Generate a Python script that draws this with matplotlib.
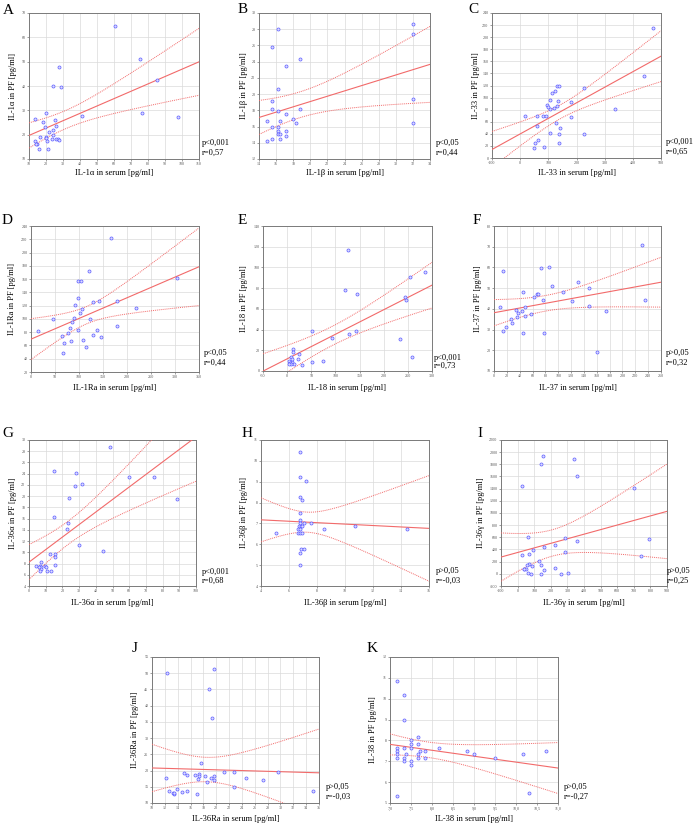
import numpy as np
import matplotlib
matplotlib.use('Agg')
import matplotlib.pyplot as plt

plt.rcParams['font.family'] = ['Liberation Serif', 'DejaVu Serif']

# ---------------- data ----------------
a_x = [60.6, 75.5, 27.8, 24.3, 28.8, 85.5, 76.3, 97.6, 41.0, 19.8, 13.3, 18.0, 25.5, 19.6, 25.7, 21.8,
       23.9, 24.3, 16.7, 19.8, 20.0, 25.9, 27.3, 27.8, 13.5, 20.4, 14.9, 14.1, 23.3, 15.7, 21.0]
a_y = [64.6, 51.3, 47.9, 39.8, 39.5, 42.4, 29.1, 27.3, 27.6, 28.9, 26.6, 25.2, 26.0, 23.3, 23.7, 21.0,
       21.9, 20.0, 18.9, 18.9, 18.5, 18.2, 18.1, 18.0, 17.2, 17.2, 16.2, 16.0, 18.2, 14.1, 14.2]

b_x = [32.0, 32.0, 16.2, 15.5, 18.8, 17.1, 16.2, 32.0, 15.5, 15.5, 16.2, 18.8, 17.1, 18.0, 14.9, 16.5,
       18.3, 32.0, 15.5, 16.2, 16.2, 17.1, 16.2, 16.5, 17.1, 15.5, 16.5, 14.9]
b_y = [28.6, 27.4, 28.0, 25.8, 24.3, 23.5, 20.6, 19.4, 19.1, 18.2, 17.9, 18.2, 17.6, 16.9, 16.7, 16.7,
       16.4, 16.4, 16.0, 16.0, 15.4, 15.4, 15.1, 15.1, 14.8, 14.5, 14.5, 14.2]

c_x = [472.7, 440.7, 336.4, 226.0, 226.0, 182.2, 178.7, 131.2, 138.4, 123.0, 114.6, 107.5, 134.8, 95.7,
       98.0, 119.4, 105.1, 132.4, 16.2, 58.9, 80.2, 93.3, 60.1, 126.5, 143.1, 107.5, 137.2, 62.5, 53.0,
       139.5, 86.2, 50.6]
c_y = [215.0, 135.5, 80.8, 115.6, 39.8, 92.9, 68.6, 119.5, 119.5, 111.2, 107.9, 96.2, 94.0, 87.4,
       84.1, 82.4, 80.8, 86.8, 69.7, 69.1, 69.1, 69.7, 52.5, 57.5, 50.3, 42.0, 40.4, 29.9, 25.4,
       24.3, 18.8, 16.6]

d_x = [166.0, 120.1, 97.2, 104.2, 304.9, 98.6, 179.9, 142.4, 129.9, 91.0, 106.9, 218.1, 102.1, 122.9,
       90.3, 45.8, 86.1, 81.3, 13.9, 97.2, 137.5, 179.9, 76.4, 129.2, 145.1, 65.3, 68.8, 84.0, 107.6,
       114.6, 66.0]
d_y = [222.5, 171.9, 157.3, 157.8, 160.9, 131.3, 127.3, 126.3, 125.3, 120.3, 115.2, 116.2, 109.2,
       100.2, 101.2, 100.2, 95.2, 85.7, 82.2, 83.2, 83.7, 89.2, 78.6, 76.1, 73.1, 74.1, 64.1, 67.1,
       68.1, 57.1, 48.1]

e_x = [126.7, 120.5, 145.4, 286.1, 254.9, 244.5, 245.9, 234.1, 258.4, 51.2, 142.0, 127.4, 92.1, 12.4,
       13.1, 24.2, 22.8, 8.9, 51.9, 74.0, 31.8, 4.4, 9.3, 5.8, 14.1, 8.6, 4.1, 10.0]
e_y = [116.8, 78.2, 74.7, 95.9, 90.8, 71.8, 68.9, 31.2, 13.8, 38.3, 38.9, 35.7, 32.2, 20.9, 18.7,
       16.4, 11.9, 13.5, 8.7, 10.0, 6.1, 9.7, 8.7, 7.4, 6.8, 6.4, 6.8, 11.9]

f_x = [229.8, 235.0, 73.8, 85.8, 14.6, 91.0, 131.0, 147.2, 44.7, 108.2, 67.1, 69.2, 61.9, 77.0, 122.2,
       9.4, 48.9, 148.2, 34.8, 43.7, 173.7, 38.0, 58.2, 35.4, 48.4, 27.0, 28.1, 18.2, 14.6, 44.7,
       78.5, 159.6]
f_y = [70.8, 44.1, 59.9, 60.0, 58.4, 51.2, 53.1, 50.1, 48.1, 48.3, 47.3, 47.0, 45.9, 44.3, 44.0,
       41.1, 41.1, 41.4, 39.4, 39.1, 39.1, 38.2, 37.4, 36.1, 36.4, 35.1, 33.0, 31.2, 29.2, 28.3,
       28.2, 19.0]

g_x = [48.4, 14.9, 28.1, 59.8, 74.9, 31.5, 27.3, 23.7, 88.6, 14.9, 23.3, 22.9, 30.1, 44.4, 12.7, 15.3,
       15.5, 7.0, 15.5, 4.0, 6.6, 7.2, 9.8, 10.4, 6.2, 7.0, 10.5, 13.3, 6.6]
g_y = [28.8, 24.5, 24.2, 23.4, 23.5, 22.2, 21.8, 19.65, 19.5, 16.2, 15.25, 14.1, 11.3, 10.2, 9.65,
       9.65, 9.2, 8.3, 7.8, 7.6, 7.5, 7.4, 7.6, 7.4, 7.3, 7.0, 6.7, 6.7, 6.6]

h_x = [6.76, 6.76, 7.23, 6.76, 6.92, 6.76, 6.76, 6.76, 7.09, 7.54, 6.69, 6.83, 6.95, 10.68, 6.61, 6.78,
       8.49, 14.43, 5.05, 6.61, 6.76, 6.90, 6.88, 7.04, 6.76, 6.76]
h_y = [10.44, 9.21, 9.03, 8.28, 8.12, 7.49, 7.16, 7.03, 7.03, 7.03, 6.87, 6.87, 6.87, 6.87, 6.72, 6.72,
       6.72, 6.72, 6.56, 6.56, 6.56, 6.56, 5.78, 5.78, 5.60, 4.99]

i_x = [156, 140, 342, 356, 24, 702, 62, 286, 792, 358, 160, 228, 26, 68, 92, 284, 126, 746, 138, 68, 54,
       86, 40, 48, 36, 224, 158, 64, 82, 138, 260, 306]
i_y = [1942, 1810, 1892, 1601, 1442, 1414, 607, 596, 574, 546, 447, 475, 315, 321, 387, 354, 216, 288,
       151, 156, 140, 123, 85, 74, 85, 90, 68, 13, 2, 2, 2, 8]

j_x = [19.65, 12.39, 18.87, 19.29, 17.68, 12.13, 15.03, 15.45, 16.69, 17.37, 17.37, 18.2, 19.65, 19.24,
       19.7, 17.21, 18.5, 21.2, 22.7, 24.6, 27.3, 29.6, 12.7, 13.9, 14.6, 15.4, 13.2, 13.5, 13.5, 17.0,
       22.7, 35.0]
j_y = [51.2, 50.0, 45.1, 36.1, 22.3, 17.7, 19.2, 18.5, 18.6, 18.8, 18.3, 18.4, 18.4, 17.7, 17.0, 17.3,
       16.5, 19.6, 19.6, 17.6, 17.0, 19.6, 13.8, 14.2, 13.3, 13.8, 13.1, 12.8, 13.0, 12.7, 15.0, 13.8]

k_x = [7.167, 7.334, 7.334, 7.66, 7.5, 7.5, 7.66, 7.167, 7.334, 7.5, 8.16, 7.167, 7.716, 7.83, 8.83,
       10.71, 7.167, 7.38, 7.66, 9.0, 10.165, 7.167, 7.334, 7.66, 7.83, 9.49, 7.334, 7.5, 7.5, 7.167,
       10.32]
k_y = [10.83, 10.17, 9.0, 8.16, 8.0, 7.83, 7.83, 7.66, 7.66, 7.66, 7.66, 7.5, 7.5, 7.5, 7.5, 7.5, 7.33,
       7.33, 7.33, 7.33, 7.33, 7.17, 7.17, 7.17, 7.17, 7.17, 7.0, 7.0, 6.83, 5.34, 5.5]

letters = ['A', 'B', 'C', 'D', 'E', 'F', 'G', 'H', 'I', 'J', 'K']
names = ['IL-1α', 'IL-1β', 'IL-33', 'IL-1Ra', 'IL-18', 'IL-37', 'IL-36α', 'IL-36β', 'IL-36γ',
         'IL-36Ra', 'IL-38']
p_texts = ['p<0,001', 'p<0,05', 'p<0,001', 'p<0,05', 'p<0,001', 'p>0,05', 'p<0,001', 'p>0,05',
           'p>0,05', 'p>0,05', 'p>0,05']
r_texts = ['r=0,57', 'r=0,44', 'r=0,65', 'r=0,44', 'r=0,73', 'r=0,32', 'r=0,68', 'r=-0,03',
           'r=0,25', 'r=-0,03', 'r=-0,27']
x_ticks = [np.arange(10, 111, 10), np.arange(14, 35, 2), np.arange(-100, 501, 100),
           np.arange(0, 351, 50), np.arange(-50, 301, 50), np.arange(0, 261, 20),
           np.arange(0, 101, 10), np.arange(4, 17, 2), np.arange(-100, 901, 100),
           np.arange(10, 37, 2), np.arange(7.0, 11.01, 0.5)]
y_ticks = [np.arange(10, 71, 10), np.arange(12, 31, 2), np.arange(0, 241, 20),
           np.arange(20, 241, 20), np.arange(0, 141, 20), np.arange(10, 81, 10),
           np.arange(4, 31, 2), np.arange(4, 12, 1), np.arange(-200, 2201, 200),
           np.arange(10, 56, 5), np.arange(5, 13, 1)]
xs_all = [a_x, b_x, c_x, d_x, e_x, f_x, g_x, h_x, i_x, j_x, k_x]
ys_all = [a_y, b_y, c_y, d_y, e_y, f_y, g_y, h_y, i_y, j_y, k_y]

# ---------------- layout (pixels in the 694x826 canvas) ----------------
W, H = 694, 826
boxes = [(29, 13, 199, 159), (259, 13, 430, 159), (492, 13, 661, 158),
         (31, 226, 199, 372), (263, 226, 432, 371), (494, 226, 661, 371),
         (29, 440, 196, 586), (261, 440, 429, 586), (501, 440, 667, 586),
         (152, 657, 319, 803), (390, 657, 558, 803)]
letter_pos = [(3, 4), (238, 3), (468, 3), (2, 214), (238, 214), (473, 214),
              (2, 427), (242, 427), (477, 427), (132, 642), (367, 642)]
ylab_off = [16, 15, 16, 19, 19, 16, 16, 17, 20, 17, 17]
xlab_off = [14, 14, 15, 16, 17, 17, 17, 17, 17, 16, 16]
ptxt = [(3, 16, 6), (6, 16, 6), (5, 16, 6), (5, 19, 9), (2, 13, 5), (5, 18, 8),
        (6, 14, 5), (7, 15, 5), (0, 15, 5), (7, 16, 6), (6, 16, 6)]

LINE_C = '#f26a6a'
PT_EDGE = '#5c5cff'
PT_FACE = '#dcdcff'


def t_quantile(df, z=1.959964):
    return (z + (z**3 + z) / (4 * df) + (5 * z**5 + 16 * z**3 + 3 * z) / (96 * df**2)
            + (3 * z**7 + 19 * z**5 + 17 * z**3 - 15 * z) / (384 * df**3))


def fmt(v, step):
    if abs(step - round(step)) > 1e-9:
        return ('%.1f' % v).replace('.', ',')
    return '%d' % round(v)


fig = plt.figure(figsize=(W / 100, H / 100), dpi=100)

for k in range(11):
    x0, y0, x1, y1 = boxes[k]
    ax = fig.add_axes([x0 / W, 1 - y1 / H, (x1 - x0) / W, (y1 - y0) / H])
    x = np.asarray(xs_all[k], float)
    y = np.asarray(ys_all[k], float)
    xt, yt = x_ticks[k], y_ticks[k]
    ax.set_xlim(xt[0], xt[-1])
    ax.set_ylim(yt[0], yt[-1])
    ax.set_xticks(xt)
    ax.set_yticks(yt)
    ax.set_xticklabels([fmt(v, xt[1] - xt[0]) for v in xt])
    ax.set_yticklabels([fmt(v, yt[1] - yt[0]) for v in yt])
    ax.grid(True, color='#dadada', lw=0.5)
    ax.set_axisbelow(True)
    for s in ax.spines.values():
        s.set_color('#7a7a7a')
        s.set_linewidth(0.7)
    ax.tick_params(labelsize=3, length=1.5, width=0.4, pad=1, colors='#555555')

    # regression with 95% confidence band
    n = len(x)
    slope, icpt = np.polyfit(x, y, 1)
    xs = np.linspace(xt[0], xt[-1], 300)
    yh = icpt + slope * xs
    s_res = np.sqrt(np.sum((y - (icpt + slope * x)) ** 2) / (n - 2))
    sxx = np.sum((x - x.mean()) ** 2)
    half = t_quantile(n - 2) * s_res * np.sqrt(1 / n + (xs - x.mean()) ** 2 / sxx)
    ax.plot(xs, yh, color=LINE_C, lw=0.8, zorder=3)
    ax.plot(xs, yh - half, color=LINE_C, lw=0.7, ls=(0, (1, 1)), zorder=3)
    ax.plot(xs, yh + half, color=LINE_C, lw=0.7, ls=(0, (1, 1)), zorder=3)

    ax.plot(x, y, ls='none', marker='o', ms=2.2, mfc=PT_FACE, mec=PT_EDGE, mew=0.5, zorder=4,
            clip_on=False)

    wpx, hpx = x1 - x0, y1 - y0
    ax.set_xlabel(names[k] + ' in serum [pg/ml]', fontsize=6)
    ax.set_ylabel(names[k] + ' in PF [pg/ml]', fontsize=6)
    ax.xaxis.set_label_coords(0.5, -xlab_off[k] / hpx)
    ax.yaxis.set_label_coords(-ylab_off[k] / wpx, 0.5)
    ax.xaxis.label.set_va('center')
    ax.yaxis.label.set_va('center')

    dx, py, ry = ptxt[k]
    ax.text(1 + dx / wpx, py / hpx, p_texts[k], transform=ax.transAxes, fontsize=6,
            ha='left', va='center')
    ax.text(1 + dx / wpx, ry / hpx, r_texts[k], transform=ax.transAxes, fontsize=6,
            ha='left', va='center')

    lx, ly = letter_pos[k]
    fig.text(lx / W, 1 - ly / H, letters[k], fontsize=11, ha='left', va='top')

fig.savefig('out.png', dpi=100)
